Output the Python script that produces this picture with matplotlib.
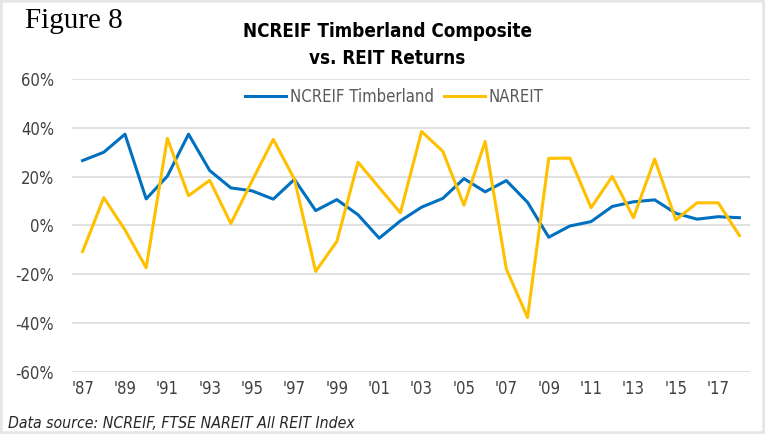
import matplotlib
matplotlib.use('Agg')
import matplotlib.pyplot as plt
from matplotlib.patches import Rectangle
from matplotlib.ticker import FuncFormatter

# annual returns, %
years = list(range(1987, 2019))
ncreif = [26.6, 30.0, 37.4, 10.9, 20.2, 37.4, 22.5, 15.4, 14.2, 10.8,
          18.9, 6.1, 10.6, 4.4, -5.2, 1.9, 7.5, 11.1, 19.2, 13.8,
          18.4, 9.5, -4.8, -0.2, 1.6, 7.8, 9.7, 10.5, 5.0, 2.6, 3.6, 3.2]
nareit = [-10.7, 11.4, -1.8, -17.3, 35.7, 12.2, 18.5, 0.8, 18.3, 35.3,
          18.9, -18.8, -6.5, 25.9, 15.5, 5.2, 38.5, 30.4, 8.3, 34.4,
          -17.8, -37.7, 27.5, 27.6, 7.3, 20.1, 3.2, 27.2, 2.3, 9.3, 9.3, -4.1]
tick_years = years[::2]
tick_labels = ["'" + str(y)[2:] for y in tick_years]
y_ticks = [-60, -40, -20, 0, 20, 40, 60]

plt.rcParams['font.family'] = ['DejaVu Sans']
plt.rcParams['font.stretch'] = 'condensed'

fig = plt.figure(figsize=(7.65, 4.34), dpi=100)

# light grey frame around the picture
fig.patches.append(Rectangle((0, 0), 1, 1, transform=fig.transFigure,
                             facecolor='none', edgecolor='#e6e6e6', linewidth=4))

ax = fig.add_axes([72 / 765, 62 / 434, 678 / 765, 293 / 434])
ax.plot(years, ncreif, color='#0070C0', lw=2.2, label='NCREIF Timberland', zorder=3)
ax.plot(years, nareit, color='#FFC000', lw=2.2, label='NAREIT', zorder=3)

ax.set_xlim(1986.5, 2018.5)
ax.set_ylim(-60, 60)
ax.set_yticks(y_ticks)
ax.yaxis.set_major_formatter(FuncFormatter(lambda v, p: '%d%%' % v))
ax.set_xticks(tick_years)
ax.set_xticklabels(tick_labels)
ax.grid(axis='y', color='#D9D9D9', lw=1.1)
ax.set_axisbelow(True)
for s in ax.spines.values():
    s.set_visible(False)
ax.tick_params(length=0, labelsize=12, colors='#404040', pad=6)
ax.tick_params(axis='y', pad=13)

leg = ax.legend(loc='upper center', bbox_to_anchor=(0.475, 1.02), ncol=2,
                frameon=False, fontsize=12, handlelength=2.5,
                handletextpad=0.2, columnspacing=0.6, labelcolor='#595959')

fig.text(0.506, 0.928, 'NCREIF Timberland Composite', ha='center', va='center',
         fontsize=13.5, fontweight='bold', color='black')
fig.text(0.506, 0.866, 'vs. REIT Returns', ha='center', va='center',
         fontsize=13.5, fontweight='bold', color='black')
fig.text(0.033, 0.952, 'Figure 8', ha='left', va='center', fontsize=21,
         family=['Liberation Serif', 'DejaVu Serif'], fontstretch='normal',
         color='black')
fig.text(0.011, 0.025, 'Data source: NCREIF, FTSE NAREIT All REIT Index',
         ha='left', va='center', fontsize=11.3, style='italic', color='#262626')

fig.savefig('out.png', dpi=100)
